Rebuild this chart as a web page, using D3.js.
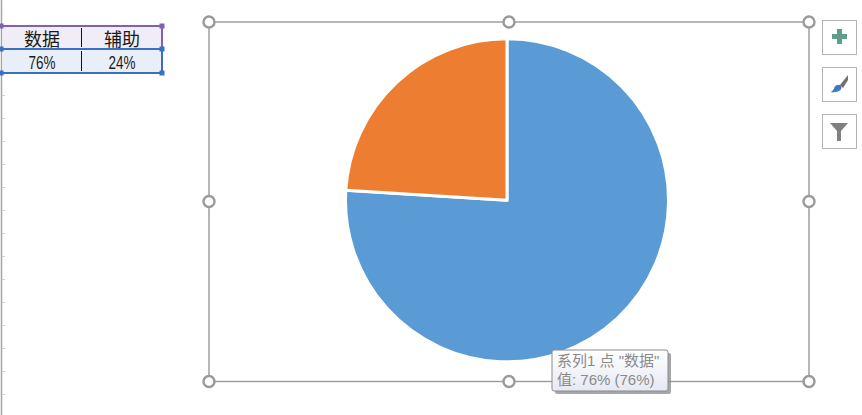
<!DOCTYPE html>
<html><head><meta charset="utf-8">
<script src="https://cdn.jsdelivr.net/npm/d3@7/dist/d3.min.js"></script>
<style>html,body{margin:0;padding:0;background:#fff}svg{display:block}
text{font-family:"Noto Sans CJK SC","Liberation Sans",sans-serif}</style></head>
<body><svg id="c" width="862" height="415"></svg>
<script>
const categories = ["数据", "辅助"];
const values = [76, 24];
const valueLabels = ["76%", "24%"];
const tooltipLines = ['系列1 点 "数据"', "值: 76% (76%)"];
const sliceColors = ["#5b9bd5", "#ed7d31"];

const svg = d3.select("#c");
const W = 862, H = 415;
svg.append("rect").attr("width", W).attr("height", H).attr("fill", "#fff");

// left sheet edge with row ticks
svg.append("line").attr("x1",1.5).attr("x2",1.5).attr("y1",0).attr("y2",H).attr("stroke","#a6a6a6").attr("stroke-width",1.5);
svg.selectAll("line.rt").data(d3.range(0,15)).join("line").attr("class","rt")
  .attr("x1",2).attr("x2",5).attr("y1",d=>95.5+d*23).attr("y2",d=>95.5+d*23).attr("stroke","#d0d0d0");

// table
const x0 = 2, xm = 81.5, x1 = 162;
const tb = svg.append("g");
tb.append("rect").attr("x",x0+1).attr("y",26).attr("width",x1-x0-1).attr("height",23).attr("fill","#f1edf6");
tb.append("rect").attr("x",x0+1).attr("y",50).attr("width",x1-x0-1).attr("height",23).attr("fill","#e8eff8");
tb.append("line").attr("x1",x0).attr("x2",x1).attr("y1",26).attr("y2",26).attr("stroke","#8061b5").attr("stroke-width",2);
tb.append("line").attr("x1",x1).attr("x2",x1).attr("y1",26).attr("y2",49).attr("stroke","#8061b5").attr("stroke-width",2);
tb.append("line").attr("x1",x0).attr("x2",x1).attr("y1",49).attr("y2",49).attr("stroke","#3a6fc4").attr("stroke-width",2);
tb.append("line").attr("x1",x0).attr("x2",x1).attr("y1",73).attr("y2",73).attr("stroke","#3a6fc4").attr("stroke-width",2);
tb.append("line").attr("x1",x1).attr("x2",x1).attr("y1",49).attr("y2",73).attr("stroke","#3a6fc4").attr("stroke-width",2);
[[xm,28,47],[xm,51,71]].forEach(s=>tb.append("line").attr("x1",s[0]).attr("x2",s[0]).attr("y1",s[1]).attr("y2",s[2]).attr("stroke","#111").attr("stroke-width",1));
[[1,26,"#8061b5"],[162,26,"#8061b5"],[1,49,"#3a6fc4"],[162,49,"#3a6fc4"],[1,73,"#3a6fc4"],[162,73,"#3a6fc4"]].forEach(h=>
  tb.append("rect").attr("x",h[0]-2.5).attr("y",h[1]-2.5).attr("width",5).attr("height",5).attr("fill",h[2]));
const cols = d3.scalePoint().domain(categories).range([42,122]);
tb.selectAll("text.h").data(categories).join("text").attr("class","h")
  .attr("x",d=>cols(d)).attr("y",46).attr("text-anchor","middle").attr("font-size",18).attr("fill","#1a1a1a").text(d=>d);
tb.selectAll("text.v").data(valueLabels).join("text").attr("class","v")
  .attr("x",(d,i)=>cols(categories[i])).attr("y",69).attr("text-anchor","middle").attr("font-size",18)
  .style("font-family","'Liberation Sans'").attr("fill","#1a1a1a")
  .attr("textLength",27).attr("lengthAdjust","spacingAndGlyphs").text(d=>d);

// chart frame
const fx0=209, fx1=809, fy0=22, fy1=381.5, fmx=509, fmy=201.5;
svg.append("rect").attr("x",fx0).attr("y",fy0).attr("width",fx1-fx0).attr("height",fy1-fy0)
  .attr("fill","none").attr("stroke","#999").attr("stroke-width",1.4);

// pie
const pie = d3.pie().sort(null)(values);
const arc = d3.arc().innerRadius(0).outerRadius(161.5);
svg.append("g").attr("transform","translate(507,200.3)")
  .selectAll("path").data(pie).join("path").attr("d",arc)
  .attr("fill",(d,i)=>sliceColors[i]).attr("stroke","#fff").attr("stroke-width",3).attr("stroke-linejoin","round");

// handles
const hs=[[fx0,fy0],[fmx,fy0],[fx1,fy0],[fx0,fmy],[fx1,fmy],[fx0,fy1],[fmx,fy1],[fx1,fy1]];
svg.selectAll("circle.h").data(hs).join("circle").attr("class","h").attr("cx",d=>d[0]).attr("cy",d=>d[1]).attr("r",5.5)
  .attr("fill","#fff").attr("stroke","#9a9a9a").attr("stroke-width",2.4);

// side buttons
[[822.5,20],[822.5,67],[822.5,114]].forEach(b=>svg.append("rect").attr("x",b[0]).attr("y",b[1]+.5).attr("width",34).attr("height",34).attr("fill","#fff").attr("stroke","#b4b4b4"));
svg.append("path").attr("d","M832 35h5v-5h5v5h5v5h-5v5h-5v-5h-5z").attr("fill","#5f9f88").attr("transform","translate(0,-1)");
svg.append("path").attr("d","M830.5 92 q3-1 4-5 q2-3 6-2 q2 2 0 5 q-4 3-10 2z").attr("fill","#3f79c4");
svg.append("path").attr("d","M840 85 L848 75 L848 80 L843 88z").attr("fill","#707070");
svg.append("path").attr("d","M830 123h18l-7 8v10h-4v-10z").attr("fill","#808080");

// tooltip
const tip=svg.append("g");
tip.append("rect").attr("x",555).attr("y",353).attr("width",116).attr("height",41).attr("rx",2).attr("fill","#8a8a8a").attr("opacity",.75);
const gr=svg.append("defs").append("linearGradient").attr("id","tg").attr("x2",0).attr("y2",1);
gr.append("stop").attr("offset",0).attr("stop-color","#ffffff");gr.append("stop").attr("offset",1).attr("stop-color","#e6e9f3");
tip.append("rect").attr("x",552).attr("y",350).attr("width",116).attr("height",41).attr("rx",2).attr("fill","url(#tg)").attr("stroke","#8c8c8c");
tip.selectAll("text").data(tooltipLines).join("text").attr("x",557).attr("y",(d,i)=>366+i*19)
  .attr("font-size",15).style("font-family","'Liberation Sans','Noto Sans CJK SC'").attr("fill","#8a8a8a").text(d=>d);
</script></body></html>
